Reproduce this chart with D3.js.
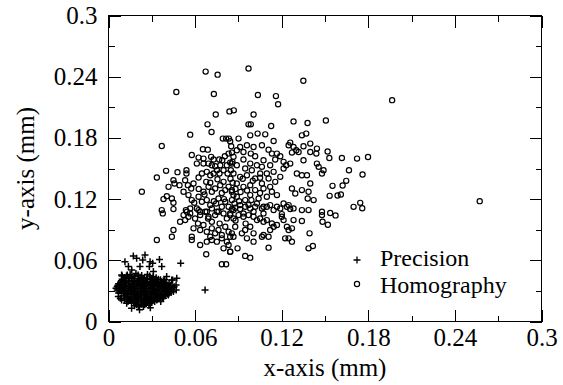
<!DOCTYPE html>
<html><head><meta charset="utf-8">
<script src="https://cdn.jsdelivr.net/npm/d3@7"></script>
<style>body{margin:0;background:#fff}</style>
</head><body><svg id="c" width="563" height="385"></svg>
<script>
const majorTicks=[0,0.06,0.12,0.18,0.24,0.3];
const minorTicks=[0.03,0.09,0.15,0.21,0.27];
const tickLabels=["0","0.06","0.12","0.18","0.24","0.3"];
const seriesNames=["Precision","Homography"];
const axisTitles=["x-axis (mm)","y-axis (mm)"];

const precision=[
[0.0114,0.0587],[0.0172,0.0642],[0.0195,0.0619],[0.0253,0.0652],[0.0237,0.0603],[0.0288,0.0587],[0.0353,0.0609],[0.0306,0.0570],[0.0500,0.0570],[0.0138,0.0538],[0.0091,0.0456],[0.0161,0.0505],[0.0218,0.0538],[0.0283,0.0538],[0.0369,0.0538],[0.0311,0.0489],[0.0052,0.0326],[0.0068,0.0244],[0.0091,0.0212],[0.0126,0.0179],[0.0195,0.0163],[0.0242,0.0147],[0.0288,0.0179],[0.0334,0.0212],[0.0380,0.0228],[0.0415,0.0261],[0.0450,0.0293],[0.0468,0.0358],[0.0438,0.0407],[0.0403,0.0440],[0.0473,0.0424],[0.0392,0.0375],[0.0669,0.0310],
[0.0082,0.0228],[0.0095,0.0447],[0.0444,0.0408],[0.0469,0.0310],[0.0419,0.0277],[0.0362,0.0196],[0.0207,0.0147],[0.0215,0.0115],[0.0160,0.0130],[0.0290,0.0135],
[0.015,0.046],[0.019,0.047],[0.023,0.045],[0.027,0.046],[0.031,0.044],
[0.011,0.043],[0.014,0.042],[0.018,0.044],[0.021,0.042],[0.025,0.043],[0.029,0.041],[0.033,0.043],[0.036,0.041],
[0.009,0.040],[0.012,0.039],[0.016,0.040],[0.020,0.039],[0.023,0.040],[0.027,0.038],[0.031,0.040],[0.034,0.039],[0.038,0.040],
[0.007,0.037],[0.010,0.036],[0.014,0.037],[0.017,0.036],[0.021,0.037],[0.025,0.036],[0.029,0.037],[0.032,0.035],[0.036,0.037],[0.040,0.036],
[0.006,0.034],[0.009,0.033],[0.012,0.034],[0.016,0.033],[0.019,0.034],[0.023,0.033],[0.026,0.034],[0.030,0.033],[0.034,0.034],[0.037,0.033],[0.041,0.034],[0.044,0.033],
[0.008,0.031],[0.011,0.030],[0.014,0.031],[0.018,0.030],[0.022,0.031],[0.025,0.030],[0.028,0.031],[0.032,0.030],[0.035,0.031],[0.039,0.030],[0.042,0.031],
[0.009,0.028],[0.013,0.027],[0.016,0.028],[0.020,0.027],[0.023,0.028],[0.027,0.027],[0.030,0.028],[0.034,0.027],[0.037,0.028],[0.041,0.027],
[0.011,0.025],[0.014,0.024],[0.018,0.025],[0.021,0.024],[0.025,0.025],[0.028,0.024],[0.032,0.025],[0.035,0.024],[0.039,0.025],
[0.013,0.022],[0.017,0.021],[0.020,0.022],[0.024,0.021],[0.027,0.022],[0.031,0.021],[0.034,0.022],
[0.016,0.019],[0.019,0.018],[0.023,0.019],[0.026,0.018],[0.030,0.019],
[0.021,0.016],[0.018,0.0155],[0.025,0.0165],
[0.013,0.0455],[0.017,0.0425],[0.024,0.0415],[0.030,0.0425],
[0.011,0.0385],[0.018,0.0385],[0.025,0.0395],[0.033,0.0375],
[0.008,0.0355],[0.015,0.0345],[0.022,0.0355],[0.028,0.0355],[0.035,0.0355],[0.039,0.0385],
[0.010,0.0325],[0.017,0.0315],[0.024,0.0325],[0.031,0.0315],[0.038,0.0325],[0.043,0.0355],
[0.012,0.0295],[0.019,0.0290],[0.026,0.0295],[0.033,0.0290],[0.040,0.0290],
[0.015,0.0265],[0.022,0.0260],[0.029,0.0265],[0.036,0.0260],
[0.019,0.0235],[0.026,0.0230],[0.033,0.0235],[0.015,0.0205],[0.028,0.0205],
[0.0125,0.0445],[0.0205,0.0455],[0.0285,0.0445],[0.0345,0.0415],[0.0095,0.0415],[0.0145,0.0395],[0.0215,0.0405],[0.0295,0.0390],[0.0365,0.0390],
[0.0065,0.0355],[0.0125,0.0355],[0.0195,0.0360],[0.0265,0.0370],[0.0305,0.0355],[0.0385,0.0350],[0.0425,0.0330],
[0.0075,0.0325],[0.0135,0.0320],[0.0205,0.0320],[0.0275,0.0325],[0.0335,0.0315],[0.0405,0.0315],
[0.0105,0.0280],[0.0175,0.0275],[0.0245,0.0280],[0.0315,0.0275],[0.0385,0.0270],[0.0435,0.0290],
[0.0125,0.0240],[0.0195,0.0245],[0.0265,0.0245],[0.0335,0.0250],[0.0375,0.0235],
[0.0145,0.0215],[0.0225,0.0200],[0.0295,0.0225],[0.0175,0.0185],[0.0245,0.0180],
[0.0160,0.0435],[0.0225,0.0435],[0.0265,0.0420],[0.0320,0.0410],[0.0110,0.0405],[0.0180,0.0405],[0.0255,0.0385],[0.0330,0.0395],[0.0390,0.0410],
[0.0085,0.0385],[0.0160,0.0375],[0.0235,0.0380],[0.0310,0.0375],[0.0370,0.0365],[0.0420,0.0375],
[0.0100,0.0345],[0.0175,0.0340],[0.0245,0.0345],[0.0320,0.0345],[0.0395,0.0335],[0.0455,0.0340],
[0.0090,0.0300],[0.0155,0.0300],[0.0230,0.0295],[0.0300,0.0300],[0.0365,0.0300],[0.0420,0.0300],
[0.0120,0.0260],[0.0190,0.0265],[0.0260,0.0260],[0.0330,0.0265],[0.0395,0.0255],
[0.0160,0.0230],[0.0230,0.0225],[0.0300,0.0240],[0.0360,0.0215],[0.0200,0.0200],[0.0265,0.0195],[0.0320,0.0195],
[0.0135,0.0195],[0.0230,0.0170],[0.0280,0.0160],[0.0110,0.0210],[0.0070,0.0280],[0.0060,0.0310]
];

const homography=[
[0.0673,0.245],[0.0756,0.242],[0.0970,0.248],[0.1350,0.236],[0.0470,0.225],[0.0730,0.223],[0.1035,0.222],[0.1160,0.221],[0.1175,0.213],[0.1965,0.217],[0.0838,0.206],[0.0868,0.207],[0.0743,0.203],[0.1005,0.203],[0.1506,0.197],[0.2572,0.118],
[0.1518,0.1666],[0.1530,0.1603],[0.1617,0.1603],[0.1722,0.1597],[0.1798,0.1613],[0.1666,0.1483],[0.1760,0.1441],[0.1647,0.1379],[0.1622,0.1333],[0.1552,0.1330],[0.1532,0.1232],[0.1587,0.1236],[0.1610,0.1245],[0.1698,0.1124],[0.1744,0.1163],[0.1758,0.1111],[0.1536,0.1063],[0.1573,0.1040],[0.1520,0.0948],
[0.1351,0.1718],[0.1351,0.1581],[0.1380,0.1206],[0.1398,0.1662],
[0.0686,0.1933],[0.0714,0.1858],[0.0566,0.1832],[0.0369,0.1721],[0.0654,0.1689],[0.0688,0.1685],[0.0792,0.1793],[0.0815,0.1793],[0.0834,0.1793],[0.0843,0.1767],[0.0850,0.1718],[0.0577,0.1633],[0.0624,0.1607],[0.0658,0.1597],[0.0832,0.1646],[0.0855,0.1656],[0.0806,0.1620],[0.0711,0.1614],[0.0728,0.1588],[0.0767,0.1588],[0.0788,0.1581],[0.0612,0.1548],[0.0658,0.1548],[0.0693,0.1548],[0.0716,0.1532],[0.0739,0.1522],[0.0774,0.1532],[0.0820,0.1532],[0.0843,0.1558],[0.0859,0.1565],[0.0399,0.1477],[0.0478,0.1464],[0.0540,0.1483],[0.0540,0.1451],[0.0335,0.1412],[0.0450,0.1386],[0.0457,0.1353],[0.0416,0.1320],[0.0492,0.1337],[0.0531,0.1386],[0.0550,0.1337],[0.0573,0.1304],[0.0589,0.1353],[0.0624,0.1412],[0.0647,0.1451],[0.0681,0.1467],[0.0705,0.1434],[0.0728,0.1451],[0.0751,0.1483],[0.0769,0.1451],[0.0797,0.1483],[0.0825,0.1451],[0.0848,0.1483],[0.0677,0.1369],[0.0693,0.1320],[0.0716,0.1272],[0.0739,0.1304],[0.0774,0.1337],[0.0797,0.1369],[0.0809,0.1288],[0.0832,0.1320],[0.0855,0.1288],[0.0866,0.1239],[0.0231,0.1272],[0.0381,0.1200],[0.0404,0.1229],[0.0439,0.1206],[0.0450,0.1164],[0.0520,0.1272],[0.0554,0.1239],[0.0577,0.1190],[0.0594,0.1164],[0.0624,0.1223],[0.0647,0.1174],[0.0658,0.1272],[0.0681,0.1190],[0.0705,0.1141],[0.0716,0.1109],[0.0746,0.1157],[0.0762,0.1206],[0.0785,0.1125],[0.0809,0.1174],[0.0832,0.1125],[0.0855,0.1190],[0.0873,0.1157],[0.0536,0.1092],[0.0566,0.1109],[0.0612,0.1109],[0.0635,0.1076],[0.0681,0.1076],[0.0751,0.1076],[0.0843,0.1060],
[0.0970,0.1933],[0.0986,0.1933],[0.1127,0.1917],[0.1282,0.1962],[0.1379,0.1946],[0.1033,0.1842],[0.1086,0.1835],[0.0982,0.1825],[0.0901,0.1793],[0.1144,0.1770],[0.1340,0.1825],[0.1370,0.1842],[0.1398,0.1744],[0.1444,0.1695],[0.1440,0.1646],[0.1259,0.1754],[0.1248,0.1728],[0.1282,0.1711],[0.1301,0.1679],[0.1271,0.1656],[0.1317,0.1662],[0.0959,0.1728],[0.0912,0.1711],[0.0889,0.1679],[0.0935,0.1662],[0.1005,0.1711],[0.1063,0.1728],[0.0986,0.1646],[0.1016,0.1620],[0.1109,0.1685],[0.1132,0.1646],[0.1167,0.1646],[0.1190,0.1620],[0.1155,0.1588],[0.1213,0.1565],[0.1231,0.1532],[0.1259,0.1548],[0.1213,0.1500],[0.1074,0.1581],[0.1120,0.1532],[0.0866,0.1614],[0.0935,0.1588],[0.0982,0.1548],[0.1028,0.1532],[0.0889,0.1532],[0.0947,0.1500],[0.0993,0.1483],[0.1063,0.1516],[0.1051,0.1451],[0.1097,0.1451],[0.1144,0.1467],[0.1190,0.1418],[0.1109,0.1402],[0.1155,0.1369],[0.1063,0.1353],[0.1016,0.1402],[0.0959,0.1434],[0.0912,0.1418],[0.0866,0.1451],[0.0889,0.1353],[0.0935,0.1320],[0.0982,0.1337],[0.1016,0.1288],[0.1074,0.1304],[0.1120,0.1320],[0.1132,0.1272],[0.1167,0.1239],[0.1097,0.1223],[0.1040,0.1206],[0.0982,0.1239],[0.0947,0.1190],[0.0889,0.1223],[0.0855,0.1272],[0.0912,0.1141],[0.0970,0.1141],[0.1028,0.1157],[0.1074,0.1125],[0.1120,0.1141],[0.1144,0.1092],[0.1190,0.1109],[0.1213,0.1157],[0.1248,0.1141],[0.1271,0.1304],[0.1282,0.1109],[0.1340,0.1288],[0.1398,0.1353],[0.1386,0.1272],[0.1421,0.1190],[0.1444,0.1548],[0.1456,0.1516],[0.1479,0.1451],[0.1490,0.1483],[0.1305,0.1451],[0.1340,0.1434],[0.1375,0.1434],[0.1294,0.1255],[0.1340,0.1092],[0.1386,0.1092],[0.0866,0.1092],[0.0935,0.1060],[0.1005,0.1076],[0.1074,0.1060],[0.1201,0.1053],[0.1479,0.1076],[0.0855,0.1548],
[0.0369,0.1092],[0.0376,0.1060],[0.0450,0.1102],[0.0520,0.1043],[0.0543,0.1076],[0.0566,0.1060],[0.0496,0.0978],[0.0531,0.0994],[0.0554,0.1027],[0.0624,0.1092],[0.0635,0.1043],[0.0670,0.1076],[0.0693,0.1027],[0.0716,0.0978],[0.0739,0.1043],[0.0762,0.1076],[0.0797,0.1060],[0.0820,0.1011],[0.0843,0.1043],[0.0855,0.1102],[0.0589,0.0913],[0.0635,0.0897],[0.0658,0.0946],[0.0681,0.0880],[0.0705,0.0831],[0.0716,0.0913],[0.0739,0.0864],[0.0762,0.0897],[0.0785,0.0848],[0.0809,0.0929],[0.0832,0.0880],[0.0843,0.0831],[0.0450,0.0897],[0.0439,0.0831],[0.0577,0.0831],[0.0577,0.0799],[0.0335,0.0799],[0.0635,0.0750],[0.0681,0.0783],[0.0716,0.0799],[0.0751,0.0783],[0.0785,0.0815],[0.0820,0.0783],[0.0797,0.0717],[0.0832,0.0750],[0.0843,0.0685],[0.0677,0.0659],[0.0785,0.0561],[0.0815,0.0561],
[0.0878,0.1115],[0.0912,0.1102],[0.0947,0.1125],[0.0982,0.1108],[0.1016,0.1125],[0.1063,0.1108],[0.1097,0.1125],[0.1167,0.1125],[0.1236,0.1125],[0.1259,0.1102],[0.0866,0.1011],[0.0901,0.1043],[0.0935,0.1027],[0.0970,0.1043],[0.1005,0.1027],[0.1028,0.0994],[0.1074,0.0978],[0.1097,0.0994],[0.1132,0.0962],[0.1167,0.0946],[0.1201,0.1027],[0.1213,0.0994],[0.1236,0.0929],[0.1248,0.0897],[0.1271,0.0913],[0.1282,0.0994],[0.1340,0.0985],[0.1479,0.1043],[0.1483,0.0978],[0.0878,0.0929],[0.0855,0.0864],[0.0866,0.0831],[0.0924,0.0864],[0.0947,0.0897],[0.0982,0.0929],[0.1005,0.0864],[0.0959,0.0815],[0.1005,0.0783],[0.1063,0.0831],[0.1074,0.0848],[0.1109,0.0831],[0.1120,0.0897],[0.1144,0.0929],[0.1224,0.0815],[0.1248,0.0815],[0.1271,0.0783],[0.1393,0.0864],[0.0894,0.0717],[0.1109,0.0724],[0.1386,0.0717],[0.1416,0.0740],[0.0947,0.0643],[0.0982,0.0626],[0.0843,0.0685],
[0.0625,0.1300],[0.0665,0.1245],[0.0705,0.1360],[0.0755,0.1395],[0.0785,0.1260],[0.0880,0.1300],[0.0915,0.1270],[0.0960,0.1285],[0.0905,0.1180],[0.0990,0.1190],[0.1050,0.1260],[0.1000,0.1380],[0.0845,0.1400],[0.0800,0.1200],[0.0730,0.1180],[0.0690,0.1010],[0.0770,0.0960],[0.0880,0.0990],[0.0950,0.0960],[0.1050,0.1010],[0.0600,0.1010],[0.0620,0.0960],[0.0860,0.1360],[0.0930,0.1400],[0.1050,0.1410]
];

const L=108.5,R=541.5,T=15.5,B=321.5;
const FAM="Liberation Serif";
const fs=25;
const svg=d3.select("#c");
svg.append("rect").attr("width",563).attr("height",385).attr("fill","#fff");
const x=d3.scaleLinear().domain([0,0.3]).range([L,R]);
const y=d3.scaleLinear().domain([0,0.3]).range([B,T]);
const fmt=d=>tickLabels[majorTicks.indexOf(d)];
const styleText=(sel,size)=>sel.attr("font-family",FAM).style("font-family",FAM).attr("font-size",size||fs).style("font-size",(size||fs)+"px").attr("fill","#000");

function addAxis(gen,tx,ty,vals,size,labels,pad){
  const g=svg.append("g").attr("transform",`translate(${tx},${ty})`)
    .call(gen.tickValues(vals).tickSize(-size).tickPadding(pad||3).tickFormat(labels?fmt:()=>""));
  g.attr("font-family",FAM).attr("font-size",fs);
  g.select(".domain").remove();
  g.selectAll("line").attr("stroke","#000").attr("stroke-width",1).attr("shape-rendering","crispEdges");
  styleText(g.selectAll("text"));
  return g;
}
addAxis(d3.axisBottom(x),0,B,majorTicks,12,true,7);
addAxis(d3.axisBottom(x),0,B,minorTicks,6,false);
addAxis(d3.axisTop(x),0,T,majorTicks,12,false);
addAxis(d3.axisTop(x),0,T,minorTicks,6,false);
addAxis(d3.axisLeft(y),L,0,majorTicks,12,true,11);
addAxis(d3.axisLeft(y),L,0,minorTicks,6,false);
addAxis(d3.axisRight(y),R,0,majorTicks,12,false);
addAxis(d3.axisRight(y),R,0,minorTicks,6,false);

svg.append("rect").attr("x",L).attr("y",T).attr("width",R-L).attr("height",B-T)
  .attr("fill","none").attr("stroke","#000").attr("stroke-width",1).attr("shape-rendering","crispEdges");

const ps=3.5;
const plus=(cx,cy)=>`M${cx-ps},${cy}h${2*ps}M${cx},${cy-ps}v${2*ps}`;
svg.append("g").selectAll("path").data(precision).join("path")
  .attr("d",d=>plus(x(d[0]),y(d[1]))).attr("stroke","#000").attr("stroke-width",1.5).attr("fill","none");
svg.append("g").selectAll("circle").data(homography).join("circle")
  .attr("cx",d=>x(d[0])).attr("cy",d=>y(d[1])).attr("r",2.6)
  .attr("fill","none").attr("stroke","#000").attr("stroke-width",1.2);

// legend
const lg=svg.append("g");
lg.append("path").attr("d",plus(357,260)).attr("stroke","#000").attr("stroke-width",1.3);
lg.append("circle").attr("cx",357).attr("cy",284).attr("r",2.6).attr("fill","none").attr("stroke","#000").attr("stroke-width",1.2);
lg.append("text").attr("x",380).attr("y",266).text(seriesNames[0]);
lg.append("text").attr("x",380).attr("y",293).text(seriesNames[1]);
styleText(lg.selectAll("text"),24);

styleText(svg.append("text").attr("x",(L+R)/2).attr("y",376).attr("text-anchor","middle").text(axisTitles[0]));
styleText(svg.append("text").attr("transform",`translate(34,${(T+B)/2}) rotate(-90)`).attr("text-anchor","middle").text(axisTitles[1]));
</script></body></html>
